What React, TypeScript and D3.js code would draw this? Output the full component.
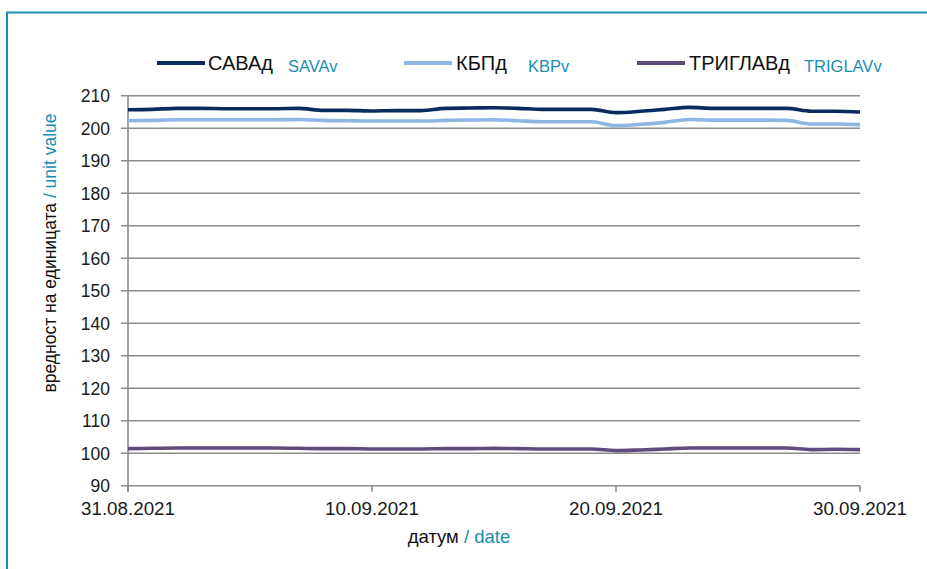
import React, { useEffect, useRef } from 'react';
import * as d3 from 'd3';

// calendar days 31.08.2021 .. 30.09.2021 (weekends carry Friday's value)
const dates: Date[] = d3.utcDays(new Date(Date.UTC(2021, 7, 31)), new Date(Date.UTC(2021, 9, 1)));

const savaValues = [
  205.7, 205.8, 206.1, 206.1, 206.0, 206.0, 206.0, 206.1, 205.5, 205.5, 205.3,
  205.4, 205.4, 206.1, 206.2, 206.3, 206.1, 205.8, 205.8, 205.8, 204.8, 205.2,
  205.8, 206.4, 206.1, 206.1, 206.1, 206.1, 205.2, 205.2, 205.0,
];
const kbpValues = [
  202.3, 202.4, 202.6, 202.6, 202.6, 202.6, 202.6, 202.7, 202.4, 202.3, 202.2,
  202.2, 202.2, 202.4, 202.5, 202.6, 202.3, 202.0, 202.0, 202.0, 200.8, 201.2,
  201.8, 202.7, 202.5, 202.5, 202.5, 202.4, 201.3, 201.3, 201.1,
];
const triglavValues = [
  101.4, 101.5, 101.6, 101.6, 101.6, 101.6, 101.6, 101.5, 101.4, 101.4, 101.3,
  101.3, 101.3, 101.4, 101.4, 101.5, 101.4, 101.3, 101.3, 101.3, 100.8, 101.0,
  101.3, 101.6, 101.6, 101.6, 101.6, 101.6, 101.1, 101.2, 101.1,
];

const yTicks = [90, 100, 110, 120, 130, 140, 150, 160, 170, 180, 190, 200, 210];
const xTickDates = [
  new Date(Date.UTC(2021, 7, 31)),
  new Date(Date.UTC(2021, 8, 10)),
  new Date(Date.UTC(2021, 8, 20)),
  new Date(Date.UTC(2021, 8, 30)),
];

const series = [
  { name: 'САВАд', latin: 'SAVAv', values: savaValues, color: '#0b2a5e', lx: 157, tx: 208, sx: 288 },
  { name: 'КБПд', latin: 'KBPv', values: kbpValues, color: '#8fb6e3', lx: 404, tx: 456, sx: 528 },
  { name: 'ТРИГЛАВд', latin: 'TRIGLAVv', values: triglavValues, color: '#604b7c', lx: 637, tx: 689, sx: 804 },
];

const TEAL = '#1a8db2';
const GRID = '#8c8c8c';
const FONT = "'Liberation Sans', Arial, sans-serif";

export default function App() {
  const svgRef = useRef<SVGSVGElement>(null);

  useEffect(() => {
    if (!svgRef.current) return;
    const width = 927;
    const height = 569;
    const svg = d3.select(svgRef.current);
    svg.selectAll('*').remove();
    svg.attr('width', width).attr('height', height);

    const x = d3
      .scaleUtc()
      .domain([dates[0], dates[dates.length - 1]])
      .range([128, 860]);
    const y = d3.scaleLinear().domain([90, 210]).range([485.7, 95.7]);

    // frame
    svg.append('path')
      .attr('d', `M7,${height + 5} L7,12.5 L${width + 5},12.5`)
      .attr('fill', 'none')
      .attr('stroke', TEAL)
      .attr('stroke-width', 2);

    // Grid lines
    svg.append('g')
      .selectAll('line')
      .data(yTicks)
      .join('line')
      .attr('x1', 121)
      .attr('x2', 860)
      .attr('y1', (d) => y(d))
      .attr('y2', (d) => y(d))
      .attr('stroke', GRID)
      .attr('stroke-width', 1.6);

    // y axis line
    svg.append('line')
      .attr('x1', 128).attr('x2', 128)
      .attr('y1', y(210)).attr('y2', y(90) + 6)
      .attr('stroke', GRID).attr('stroke-width', 1.6);

    // x ticks
    svg.append('g')
      .selectAll('line')
      .data(xTickDates)
      .join('line')
      .attr('x1', (d) => x(d))
      .attr('x2', (d) => x(d))
      .attr('y1', y(90))
      .attr('y2', y(90) + 6)
      .attr('stroke', GRID)
      .attr('stroke-width', 1.6);

    // y tick labels
    svg.append('g')
      .selectAll('text')
      .data(yTicks)
      .join('text')
      .attr('x', 110)
      .attr('y', (d) => y(d))
      .attr('dy', '0.36em')
      .attr('text-anchor', 'end')
      .attr('font-family', FONT)
      .attr('font-size', '17.5px')
      .attr('fill', '#1a1a1a')
      .text((d) => d);

    // x tick labels
    const fmt = d3.utcFormat('%d.%m.%Y');
    svg.append('g')
      .selectAll('text')
      .data(xTickDates)
      .join('text')
      .attr('x', (d) => x(d))
      .attr('y', 515)
      .attr('text-anchor', 'middle')
      .attr('font-family', FONT)
      .attr('font-size', '18.8px')
      .attr('fill', '#1a1a1a')
      .text((d) => fmt(d));

    // lines
    const line = d3
      .line<number>()
      .x((_, i) => x(dates[i]))
      .y((d) => y(d))
      .curve(d3.curveMonotoneX);

    series.forEach((s) => {
      svg.append('path')
        .datum(s.values)
        .attr('d', line)
        .attr('fill', 'none')
        .attr('stroke', s.color)
        .attr('stroke-width', 3.6)
        .attr('stroke-linejoin', 'round');
    });

    // legend
    const legend = svg.append('g');
    series.forEach((s) => {
      legend.append('line')
        .attr('x1', s.lx).attr('x2', s.lx + 48)
        .attr('y1', 63).attr('y2', 63)
        .attr('stroke', s.color).attr('stroke-width', 4);
      legend.append('text')
        .attr('x', s.tx).attr('y', 69.5)
        .attr('font-family', FONT).attr('font-size', '20px')
        .attr('fill', '#111')
        .text(s.name);
      legend.append('text')
        .attr('x', s.sx).attr('y', 72)
        .attr('font-family', FONT).attr('font-size', '16.5px')
        .attr('fill', TEAL)
        .text(s.latin);
    });

    // axis titles
    const yTitle = svg.append('text')
      .attr('transform', 'translate(56,253) rotate(-90)')
      .attr('text-anchor', 'middle')
      .attr('font-family', FONT)
      .attr('font-size', '17.5px')
      .attr('fill', '#111');
    yTitle.append('tspan').text('вредност на единицата ');
    yTitle.append('tspan').attr('fill', TEAL).text('/ unit value');

    const xTitle = svg.append('text')
      .attr('x', 459)
      .attr('y', 543)
      .attr('text-anchor', 'middle')
      .attr('font-family', FONT)
      .attr('font-size', '18.5px')
      .attr('fill', '#111');
    xTitle.append('tspan').text('датум ');
    xTitle.append('tspan').attr('fill', TEAL).text('/ date');
  }, []);

  return (
    <div style={{ position: 'absolute', left: 0, top: 0, width: 927, height: 569, overflow: 'hidden', background: '#fff' }}>
      <svg ref={svgRef} style={{ display: 'block' }} />
    </div>
  );
}
